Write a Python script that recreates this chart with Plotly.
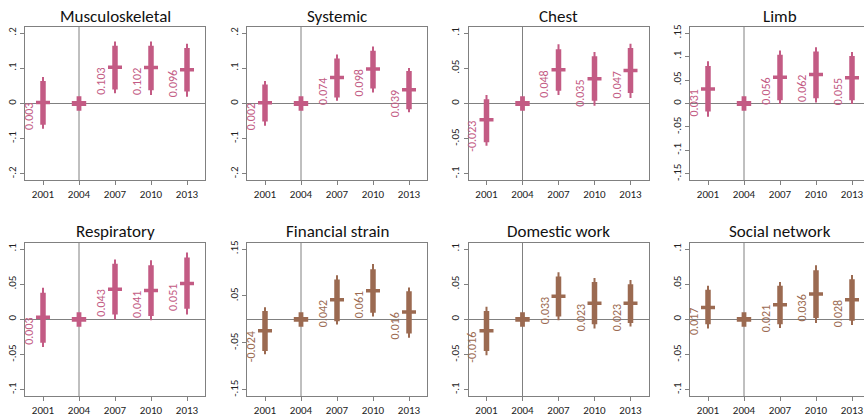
import plotly.graph_objects as go

years = [2001, 2004, 2007, 2010, 2013]
ref_year = 2004

titles = ["Musculoskeletal", "Systemic", "Chest", "Limb",
          "Respiratory", "Financial strain", "Domestic work", "Social network"]

# point estimates (2004 is reference = 0)
est = {
    "Musculoskeletal": [0.003, 0.0, 0.103, 0.102, 0.096],
    "Systemic":        [0.002, 0.0, 0.074, 0.098, 0.039],
    "Chest":           [-0.023, 0.0, 0.048, 0.035, 0.047],
    "Limb":            [0.031, 0.0, 0.056, 0.062, 0.055],
    "Respiratory":     [0.003, 0.0, 0.043, 0.041, 0.051],
    "Financial strain": [-0.024, 0.0, 0.042, 0.061, 0.016],
    "Domestic work":   [-0.016, 0.0, 0.033, 0.023, 0.023],
    "Social network":  [0.017, 0.0, 0.021, 0.036, 0.028],
}
# inner (thick) interval: lower, upper
inner_lo = {
    "Musculoskeletal": [-0.060, 0, 0.040, 0.038, 0.034],
    "Systemic":        [-0.051, 0, 0.017, 0.043, -0.016],
    "Chest":           [-0.055, 0, 0.018, 0.004, 0.015],
    "Limb":            [-0.017, 0, 0.007, 0.011, 0.007],
    "Respiratory":     [-0.033, 0, 0.007, 0.005, 0.015],
    "Financial strain": [-0.067, 0, -0.004, 0.014, -0.030],
    "Domestic work":   [-0.045, 0, 0.004, -0.007, -0.005],
    "Social network":  [-0.007, 0, -0.007, 0.002, -0.002],
}
inner_hi = {
    "Musculoskeletal": [0.064, 0, 0.164, 0.164, 0.158],
    "Systemic":        [0.054, 0, 0.128, 0.150, 0.092],
    "Chest":           [0.006, 0, 0.077, 0.067, 0.079],
    "Limb":            [0.080, 0, 0.104, 0.111, 0.101],
    "Respiratory":     [0.038, 0, 0.079, 0.077, 0.088],
    "Financial strain": [0.018, 0, 0.085, 0.107, 0.060],
    "Domestic work":   [0.012, 0, 0.061, 0.053, 0.050],
    "Social network":  [0.042, 0, 0.048, 0.070, 0.057],
}
# outer (thin) interval: lower, upper
outer_lo = {
    "Musculoskeletal": [-0.072, 0, 0.029, 0.024, 0.019],
    "Systemic":        [-0.063, 0, 0.008, 0.031, -0.025],
    "Chest":           [-0.060, 0, 0.012, -0.003, 0.008],
    "Limb":            [-0.028, 0, -0.001, 0.002, -0.001],
    "Respiratory":     [-0.039, 0, 0.000, -0.001, 0.007],
    "Financial strain": [-0.074, 0, -0.011, 0.006, -0.039],
    "Domestic work":   [-0.051, 0, -0.001, -0.013, -0.010],
    "Social network":  [-0.013, 0, -0.012, -0.005, -0.008],
}
outer_hi = {
    "Musculoskeletal": [0.075, 0, 0.176, 0.176, 0.170],
    "Systemic":        [0.064, 0, 0.139, 0.162, 0.101],
    "Chest":           [0.012, 0, 0.084, 0.073, 0.085],
    "Limb":            [0.090, 0, 0.113, 0.120, 0.110],
    "Respiratory":     [0.045, 0, 0.085, 0.084, 0.095],
    "Financial strain": [0.026, 0, 0.094, 0.118, 0.068],
    "Domestic work":   [0.018, 0, 0.067, 0.059, 0.056],
    "Social network":  [0.048, 0, 0.053, 0.077, 0.063],
}
# y-axis ticks per panel
y_ticks = {
    "Musculoskeletal": ([0.2, 0.1, 0, -0.1, -0.2], [".2", ".1", "0", "-.1", "-.2"]),
    "Systemic":        ([0.2, 0.1, 0, -0.1, -0.2], [".2", ".1", "0", "-.1", "-.2"]),
    "Chest":           ([0.1, 0.05, 0, -0.05, -0.1], [".1", ".05", "0", "-.05", "-.1"]),
    "Limb":            ([0.15, 0.1, 0.05, 0, -0.05, -0.1, -0.15],
                        [".15", ".1", ".05", "0", "-.05", "-.1", "-.15"]),
    "Respiratory":     ([0.1, 0.05, 0, -0.05, -0.1], [".1", ".05", "0", "-.05", "-.1"]),
    "Financial strain": ([0.15, 0.05, -0.05, -0.15], [".15", ".05", "-.05", "-.15"]),
    "Domestic work":   ([0.1, 0.05, 0, -0.05, -0.1], [".1", ".05", "0", "-.05", "-.1"]),
    "Social network":  ([0.1, 0.05, 0, -0.05, -0.1], [".1", ".05", "0", "-.05", "-.1"]),
}
y_limit = {"Musculoskeletal": 0.2, "Systemic": 0.2, "Chest": 0.1, "Limb": 0.15,
           "Respiratory": 0.1, "Financial strain": 0.15, "Domestic work": 0.1,
           "Social network": 0.1}
colors = {"Musculoskeletal": "#C35B84", "Systemic": "#C35B84", "Chest": "#C35B84",
          "Limb": "#C35B84", "Respiratory": "#C35B84", "Financial strain": "#9B6A51",
          "Domestic work": "#9B6A51", "Social network": "#9B6A51"}

W, H = 864, 417
col_left = [25, 247, 468.5, 690]
panel_w = 180
row_top = [25, 243]
panel_h = 155
title_y = [15, 232]
px_per_year = panel_w / 15.0

FONT = "Carlito, Calibri, Lato, sans-serif"
AX = "#808080"

fig = go.Figure()
annotations = []
shapes = []

for i, name in enumerate(titles):
    r, c = divmod(i, 4)
    n = i + 1
    xa = "x" if n == 1 else f"x{n}"
    ya = "y" if n == 1 else f"y{n}"
    left = col_left[c]
    right = min(left + panel_w, W)
    x0 = 1999.5
    x1 = x0 + (right - left) / px_per_year
    top = row_top[r]
    bot = top + panel_h
    lim = y_limit[name] * 1.09
    col = colors[name]

    xs_o, ys_o, xs_i, ys_i, xs_e, ys_e = [], [], [], [], [], []
    for k, yr in enumerate(years):
        if yr == ref_year:
            continue
        xs_o += [yr, yr, None]
        ys_o += [outer_lo[name][k], outer_hi[name][k], None]
        xs_i += [yr, yr, None]
        ys_i += [inner_lo[name][k], inner_hi[name][k], None]
        xs_e.append(yr)
        ys_e.append(est[name][k])
        annotations.append(dict(
            x=yr, y=est[name][k], xref=xa, yref=ya, text=f"{est[name][k]:.3f}",
            textangle=-90, xanchor="right", yanchor="top", xshift=-5, yshift=1,
            showarrow=False, font=dict(family=FONT, size=12, color=col)))
    fig.add_trace(go.Scatter(x=xs_o, y=ys_o, mode="lines", xaxis=xa, yaxis=ya,
                             line=dict(color=col, width=2), showlegend=False,
                             hoverinfo="skip"))
    fig.add_trace(go.Scatter(x=xs_i, y=ys_i, mode="lines", xaxis=xa, yaxis=ya,
                             line=dict(color=col, width=5.5), showlegend=False,
                             hoverinfo="skip"))
    fig.add_trace(go.Scatter(x=xs_e, y=ys_e, mode="markers", xaxis=xa, yaxis=ya,
                             marker=dict(symbol="line-ew", size=10,
                                         line=dict(color=col, width=3.5)),
                             showlegend=False))
    k_ref = years.index(ref_year)
    fig.add_trace(go.Scatter(x=[ref_year], y=[est[name][k_ref]], mode="markers",
                             xaxis=xa, yaxis=ya,
                             marker=dict(symbol="cross", size=12, color=col,
                                         line=dict(width=0)),
                             showlegend=False))

    shapes.append(dict(type="line", xref=xa, yref=f"{ya} domain", x0=ref_year,
                       x1=ref_year, y0=0, y1=1, line=dict(color=AX, width=1),
                       layer="below"))

    tv, tt = y_ticks[name]
    fig.layout[("xaxis" if n == 1 else f"xaxis{n}")] = dict(
        domain=[left / W, right / W], range=[x0, x1], anchor=ya,
        tickvals=years, ticktext=[str(y) for y in years], ticks="outside",
        ticklen=4, tickcolor=AX, showline=True, linecolor=AX, linewidth=1,
        mirror=True, showgrid=False, zeroline=False,
        tickfont=dict(family=FONT, size=11, color="#222"))
    fig.layout[("yaxis" if n == 1 else f"yaxis{n}")] = dict(
        domain=[1 - bot / H, 1 - top / H], range=[-lim, lim], anchor=xa,
        tickvals=tv, ticktext=tt, ticks="outside", ticklen=4, tickcolor=AX,
        tickangle=-90, showline=True, linecolor=AX, linewidth=1,
        mirror=(c != 3), showgrid=False, zeroline=True, zerolinecolor=AX,
        zerolinewidth=1, tickfont=dict(family=FONT, size=11, color="#222"))

    annotations.append(dict(
        x=(left + panel_w / 2) / W, y=1 - title_y[r] / H, xref="paper",
        yref="paper", text=name, showarrow=False, xanchor="center",
        yanchor="middle", font=dict(family=FONT, size=17, color="#111")))

fig.update_layout(width=W, height=H, margin=dict(l=0, r=0, t=0, b=0),
                  paper_bgcolor="white", plot_bgcolor="white",
                  annotations=annotations, shapes=shapes, showlegend=False)

# remove the default 8px page margin so the figure fills the window exactly
fig.write_html("out.html",
               config={"displayModeBar": False},
               post_script="document.body.style.margin='0';"
                           "document.body.style.overflow='hidden';")
